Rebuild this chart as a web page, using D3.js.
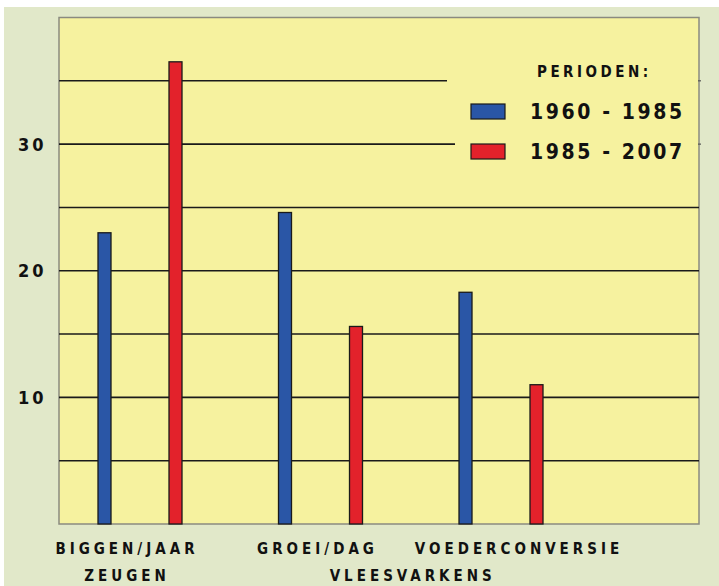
<!DOCTYPE html>
<html><head><meta charset="utf-8">
<script src="https://cdn.jsdelivr.net/npm/d3@7"></script>
<style>
html,body{margin:0;padding:0;background:#fff;}
svg{display:block;}
text{font-family:"DejaVu Sans Condensed","DejaVu Sans",sans-serif;font-weight:bold;fill:#111;}
</style></head>
<body>
<script>
// ---- data ----
const categories = ["BIGGEN/JAAR", "GROEI/DAG", "VOEDERCONVERSIE"];
const series = ["1960 - 1985", "1985 - 2007"];
const values1960_1985 = [23.0, 24.6, 18.3];
const values1985_2007 = [36.5, 15.6, 11.0];
const groupLabels = ["ZEUGEN", "VLEESVARKENS"];
const groupMembers = [["BIGGEN/JAAR"], ["GROEI/DAG", "VOEDERCONVERSIE"]];
const yTickLabels = [10, 20, 30];
const gridValues = [5, 10, 15, 20, 25, 30, 35];
const legendTitle = "PERIODEN:";

// ---- layout ----
const W = 719, H = 586;
const plot = {left: 59, right: 699, top: 17.5, bottom: 524};
const colors = {"1960 - 1985": "#2a56a6", "1985 - 2007": "#e3222b"};

const svg = d3.select("body").append("svg").attr("width", W).attr("height", H);
svg.append("rect").attr("x", 4).attr("y", 7).attr("width", W - 4).attr("height", H - 7).attr("fill", "#e1e8c9");
svg.append("rect").attr("x", plot.left).attr("y", plot.top)
  .attr("width", plot.right - plot.left).attr("height", plot.bottom - plot.top)
  .attr("fill", "#f6f29f").attr("stroke", "#8a8a80").attr("stroke-width", 1.5);

const y = d3.scaleLinear().domain([0, 40]).range([plot.bottom, plot.top]);
const x0 = d3.scaleBand().domain(categories).range([49.75, 591.25]);
const x1 = d3.scalePoint().domain(series).range([-35.5, 35.5]);
const barW = 13;
const legendLeft = {35: 447, 30: 455};

// gridlines
svg.append("g").selectAll("line").data(gridValues).join("line")
  .attr("x1", plot.left).attr("x2", d => legendLeft[d] || plot.right)
  .attr("y1", d => y(d)).attr("y2", d => y(d))
  .attr("stroke", "#1a1a1a").attr("stroke-width", 1.6);
// small right-edge ticks where grid is interrupted
svg.append("g").selectAll("line").data(gridValues.filter(d => legendLeft[d])).join("line")
  .attr("x1", plot.right - 2).attr("x2", plot.right + 2)
  .attr("y1", d => y(d)).attr("y2", d => y(d))
  .attr("stroke", "#555").attr("stroke-width", 1.2);

// y labels
svg.append("g").selectAll("text").data(yTickLabels).join("text")
  .attr("x", 18).attr("y", d => y(d)).attr("dy", "0.36em")
  .attr("font-size", 18).attr("letter-spacing", 3).text(d => d);

// bars
const rows = [];
categories.forEach((c, i) => {
  rows.push({cat: c, s: series[0], v: values1960_1985[i]});
  rows.push({cat: c, s: series[1], v: values1985_2007[i]});
});
svg.append("g").selectAll("rect").data(rows).join("rect")
  .attr("x", d => x0(d.cat) + x0.bandwidth() / 2 + x1(d.s) - barW / 2)
  .attr("y", d => y(d.v))
  .attr("width", barW).attr("height", d => y(0) - y(d.v))
  .attr("fill", d => colors[d.s]).attr("stroke", "#1a1a1a").attr("stroke-width", 1.3);

// category labels
const labelShift = {"BIGGEN/JAAR": -13, "GROEI/DAG": -3, "VOEDERCONVERSIE": 18};
svg.append("g").selectAll("text").data(categories).join("text")
  .attr("x", d => x0(d) + x0.bandwidth() / 2 + labelShift[d])
  .attr("y", 554).attr("text-anchor", "middle")
  .attr("font-size", 15).attr("letter-spacing", 4).text(d => d);

// group labels
svg.append("g").selectAll("text").data(groupLabels).join("text")
  .attr("x", (d, i) => {
    const cs = groupMembers[i].map(c => x0(c) + x0.bandwidth() / 2);
    return d3.mean(cs) + (i === 0 ? -13 : 2);
  })
  .attr("y", 581).attr("text-anchor", "middle")
  .attr("font-size", 15).attr("letter-spacing", 4).text(d => d);

// legend
const lg = svg.append("g");
lg.append("rect").attr("x", 455).attr("y", 55).attr("width", 243).attr("height", 120).attr("fill", "#f6f29f");
lg.append("text").attr("x", 537).attr("y", 77).attr("font-size", 15).attr("letter-spacing", 3.5).text(legendTitle);
const li = lg.selectAll("g.item").data(series).join("g").attr("class", "item")
  .attr("transform", (d, i) => `translate(471,${104 + i * 40})`);
li.append("rect").attr("width", 34).attr("height", 15)
  .attr("fill", d => colors[d]).attr("stroke", "#1a1a1a").attr("stroke-width", 1.2);
li.append("text").attr("x", 59).attr("y", 7.5).attr("dy", "0.36em")
  .attr("font-size", 21).attr("letter-spacing", 2.6).text(d => d);
</script>
</body></html>
